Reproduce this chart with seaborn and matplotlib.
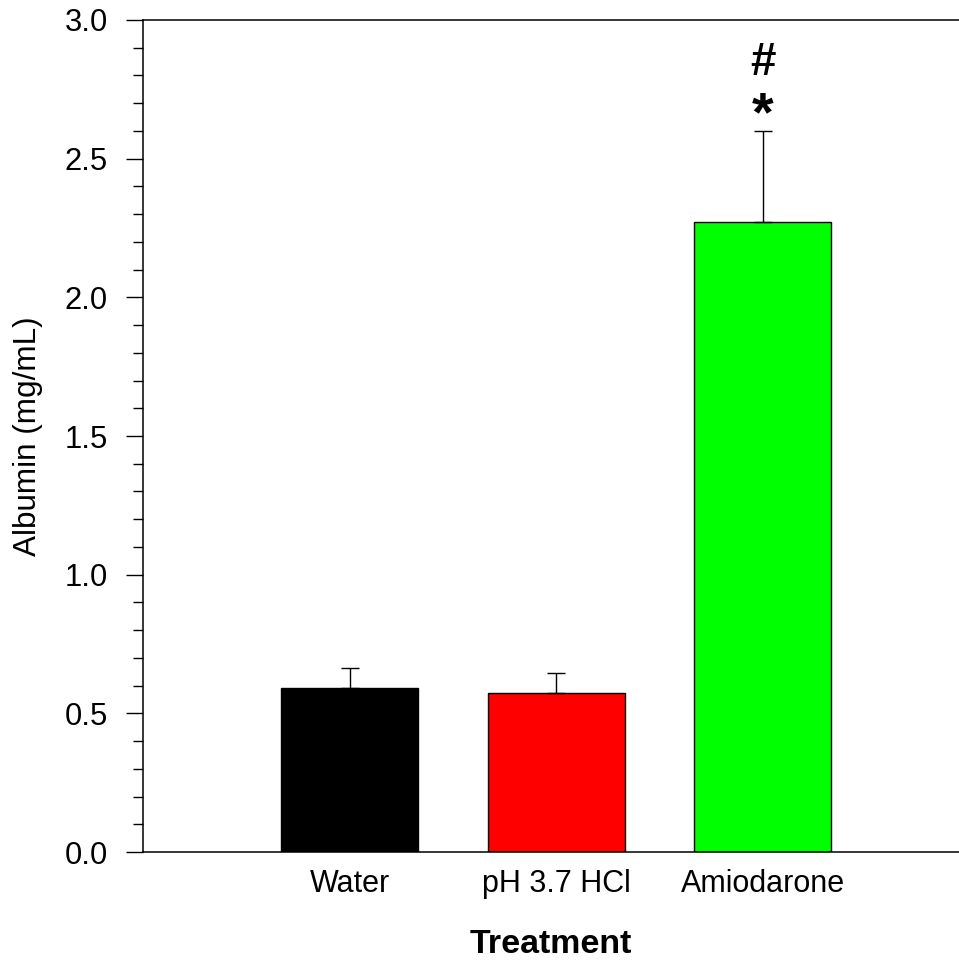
import numpy as np
import pandas as pd
import matplotlib
matplotlib.use("Agg")
import matplotlib.pyplot as plt
from matplotlib.ticker import MultipleLocator, FormatStrFormatter
import seaborn as sns

# Albumin in BAL fluid by treatment group (mean + SEM)
treatments = ["Water", "pH 3.7 HCl", "Amiodarone"]
albumin_mean = [0.590, 0.574, 2.270]
albumin_sem = [0.074, 0.070, 0.330]
bar_colors = ["#000000", "#ff0000", "#00ff00"]
significance = ["*", "#"]

sns.set_theme(style="white")
plt.rcParams["font.family"] = ["Liberation Sans", "DejaVu Sans"]
plt.rcParams["text.color"] = "black"
plt.rcParams["axes.labelcolor"] = "black"
plt.rcParams["xtick.color"] = "black"
plt.rcParams["ytick.color"] = "black"

df = pd.DataFrame({"Treatment": treatments, "Albumin": albumin_mean})

fig = plt.figure(figsize=(9.59, 9.61), dpi=100)
ax = fig.add_axes([0.1491, 0.1134, 0.8509, 0.8658])

sns.barplot(data=df, x="Treatment", y="Albumin", hue="Treatment",
            palette=bar_colors, saturation=1.0, legend=False, width=0.663,
            edgecolor="black", linewidth=1.0, errorbar=None, ax=ax)

xpos = np.arange(len(treatments))
ax.errorbar(xpos, albumin_mean,
            yerr=[np.zeros(len(albumin_sem)), albumin_sem],
            fmt="none", ecolor="black", elinewidth=1.0,
            capsize=6.5, capthick=1.0, zorder=1)

# significance marks above the amiodarone bar
top = albumin_mean[2] + albumin_sem[2]
ax.annotate(significance[0], (xpos[2], top), xytext=(0, -8),
            textcoords="offset points", ha="center", va="bottom",
            fontsize=40, fontweight="bold", color="black")
ax.annotate(significance[1], (xpos[2], top), xytext=(0, 33),
            textcoords="offset points", ha="center", va="bottom",
            fontsize=33, fontweight="bold", color="black")

ax.set_xlim(-1.0, 2.95)
ax.set_ylim(0, 3.0)
ax.yaxis.set_major_locator(MultipleLocator(0.5))
ax.yaxis.set_minor_locator(MultipleLocator(0.1))
ax.yaxis.set_major_formatter(FormatStrFormatter("%.1f"))

for side in ["left", "top", "bottom"]:
    ax.spines[side].set_visible(True)
    ax.spines[side].set_color("black")
    ax.spines[side].set_linewidth(1.1)
ax.spines["right"].set_visible(False)

ax.tick_params(axis="y", which="major", direction="out", length=12.2,
               width=1.0, color="black", labelsize=22.3, pad=13, left=True)
ax.tick_params(axis="y", which="minor", direction="out", length=7.2,
               width=1.0, color="black", left=True)
ax.tick_params(axis="x", which="both", length=0, labelsize=22, pad=12)

ax.set_ylabel("Albumin (mg/mL)", fontsize=22.7, labelpad=16)
ax.set_xlabel("Treatment", fontsize=24.5, fontweight="bold", labelpad=22)

fig.savefig("out.png", dpi=100)
